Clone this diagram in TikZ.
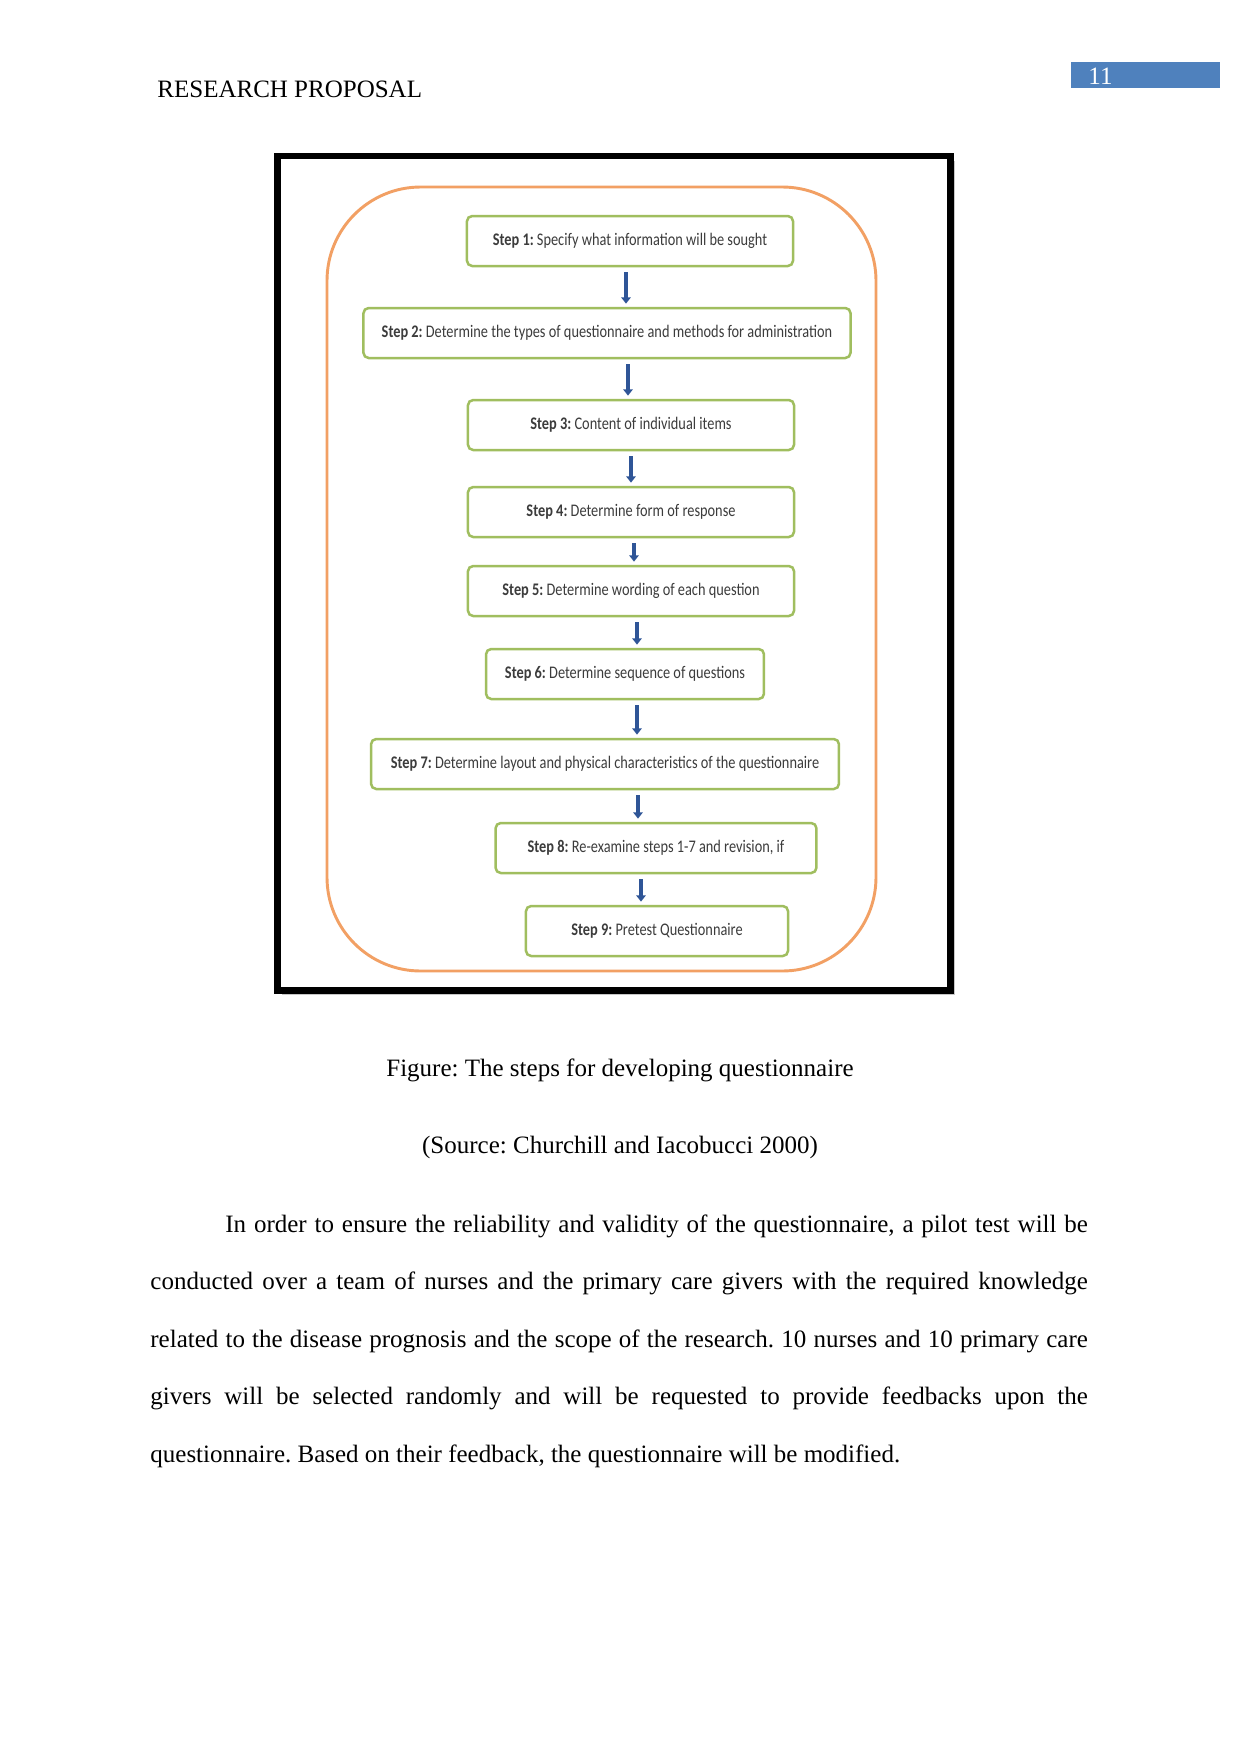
\documentclass[tikz,border=0pt]{standalone}
\usepackage{fontspec}
\setmainfont{Liberation Serif}
\newfontfamily\stepfont[FakeStretch=0.81]{Carlito}
\usepackage{xcolor}
\usetikzlibrary{calc, positioning}
\usetikzlibrary{arrows.meta}
\frenchspacing

\definecolor{stepgreen}{RGB}{160,190,95}
\definecolor{ovalorange}{RGB}{242,160,100}
\definecolor{flowblue}{RGB}{47,85,151}
\definecolor{pageblue}{RGB}{79,129,189}
\definecolor{steptext}{RGB}{60,60,60}

\tikzset{
  doctext/.style={font=\fontsize{12pt}{14.4pt}\selectfont, inner sep=0pt},
  stepbox/.style={draw=stepgreen, line width=1.2pt, rounded corners=2.5pt, fill=white,
    minimum height=24pt, inner sep=0pt, text=steptext,
    font=\stepfont\fontsize{8.5pt}{10pt}\selectfont},
  flow/.style={draw=flowblue, line width=1.9pt, -{Triangle[length=3pt,width=4.5pt]},
    shorten <=2.5pt, shorten >=1.5pt}
}

\begin{document}
\begin{tikzpicture}[x=0.48pt,y=-0.48pt]
\useasboundingbox (0,0) rectangle (1241,1754);

% running head
\node[doctext, anchor=base west] (head) at (157,97) {RESEARCH PROPOSAL};
\fill[pageblue] (1071,62) rectangle (1220,88);
\node[doctext, anchor=base west, text=white] (pnum) at (1088,84) {11};

% framed figure
\fill[black!22] (282,161) rectangle (955,995);
\draw[black, line width=3.1pt, fill=white] (277.5,156) rectangle (950.5,990.5);
\draw[ovalorange, line width=1.4pt, rounded corners=45pt] (327,187) rectangle (876,971);

\node[stepbox, minimum width=156.5pt] (sOne) at (630,241) {\textbf{Step 1:} Specify what information will be sought};
\node[stepbox, minimum width=233.8pt] (sTwo) at (607,333) {\textbf{Step 2:} Determine the types of questionnaire and methods for administration};
\node[stepbox, minimum width=156.5pt] (sThree) at (631,425) {\textbf{Step 3:} Content of individual items};
\node[stepbox, minimum width=156.5pt] (sFour) at (631,512) {\textbf{Step 4:} Determine form of response};
\node[stepbox, minimum width=156.5pt] (sFive) at (631,591) {\textbf{Step 5:} Determine wording of each question};
\node[stepbox, minimum width=133.4pt] (sSix) at (625,674) {\textbf{Step 6:} Determine sequence of questions};
\node[stepbox, minimum width=224.6pt] (sSeven) at (605,764) {\textbf{Step 7:} Determine layout and physical characteristics of the questionnaire};
\node[stepbox, minimum width=154pt] (sEight) at (656,848) {\textbf{Step 8:} Re-examine steps 1-7 and revision, if};
\node[stepbox, minimum width=125.8pt] (sNine) at (657,931) {\textbf{Step 9:} Pretest Questionnaire};

\draw[flow] (sOne.south -| 626,0) -- (sTwo.north -| 626,0);
\draw[flow] (sTwo.south -| 628,0) -- (sThree.north -| 628,0);
\draw[flow] (sThree.south -| 631,0) -- (sFour.north -| 631,0);
\draw[flow] (sFour.south -| 634,0) -- (sFive.north -| 634,0);
\draw[flow] (sFive.south -| 637,0) -- (sSix.north -| 637,0);
\draw[flow] (sSix.south -| 637,0) -- (sSeven.north -| 637,0);
\draw[flow] (sSeven.south -| 638,0) -- (sEight.north -| 638,0);
\draw[flow] (sEight.south -| 641,0) -- (sNine.north -| 641,0);

% caption
\node[doctext, anchor=base] (cap) at (620,1076) {Figure: The steps for developing questionnaire};
\node[doctext, anchor=base] (src) at (620,1153) {(Source: Churchill and Iacobucci 2000)};

% body text
\node[doctext, anchor=base west] (para) at (150,1232) {\parbox[t]{450pt}{\fontsize{12pt}{27.6pt}\selectfont
\setlength{\parindent}{36pt}\indent In order to ensure the reliability and validity of the questionnaire, a pilot test will be\linebreak
conducted over a team of nurses and the primary care givers with the required knowledge\linebreak
related to the disease prognosis and the scope of the research. 10 nurses and 10 primary care\linebreak
givers will be selected randomly and will be requested to provide feedbacks upon the\linebreak
questionnaire. Based on their feedback, the questionnaire will be modified.\par}};
\end{tikzpicture}
\end{document}
